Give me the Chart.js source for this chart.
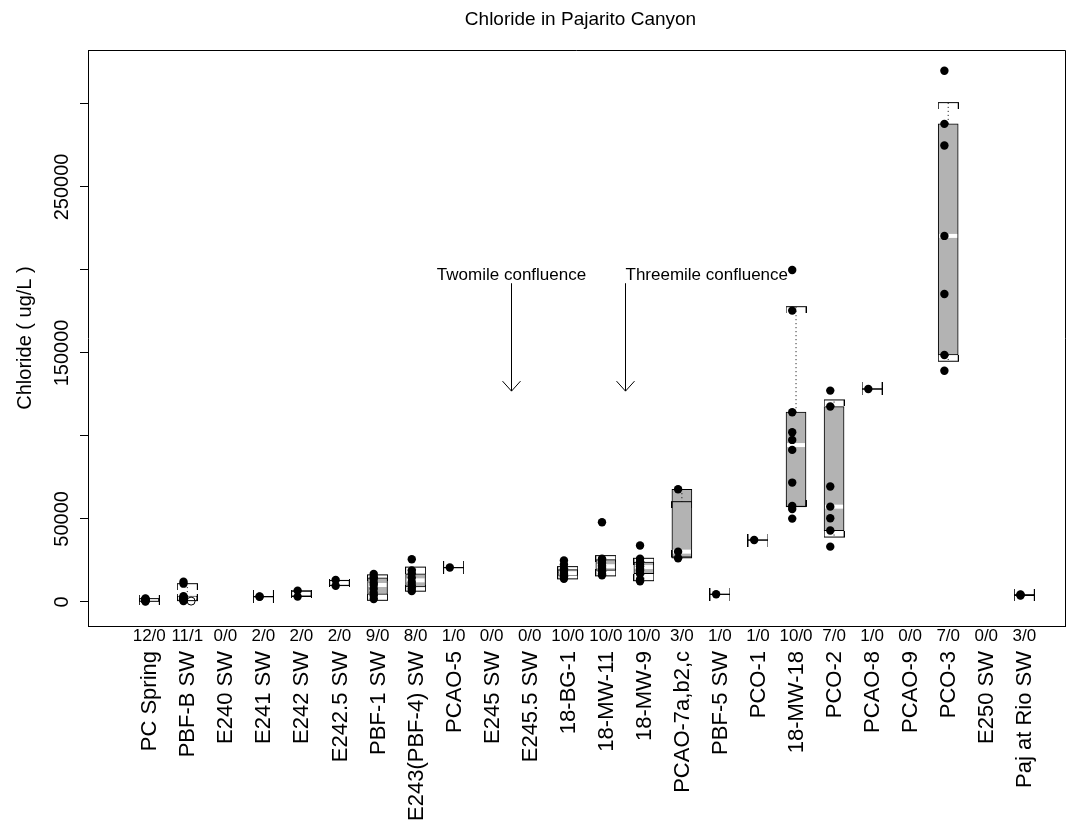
<!DOCTYPE html>
<html>
<head>
<meta charset="utf-8">
<title>Chloride in Pajarito Canyon</title>
<script src="https://cdn.jsdelivr.net/npm/chart.js"></script>
<style>
  html, body { margin:0; padding:0; background:#fff; }
  #wrap { width:1078px; height:827px; }
</style>
</head>
<body>
<div id="wrap"><canvas id="chartCl" width="1078" height="827"></canvas></div>
<script>
// stations from top of the canyon down to the Rio Grande
var stations = ['PC Spring', 'PBF-B SW', 'E240 SW', 'E241 SW', 'E242 SW', 'E242.5 SW', 'PBF-1 SW',
  'E243(PBF-4) SW', 'PCAO-5', 'E245 SW', 'E245.5 SW', '18-BG-1', '18-MW-11', '18-MW-9',
  'PCAO-7a,b2,c', 'PBF-5 SW', 'PCO-1', '18-MW-18', 'PCO-2', 'PCAO-8', 'PCAO-9', 'PCO-3',
  'E250 SW', 'Paj at Rio SW'];
// detects / non-detects
var countLabels = ['12/0', '11/1', '0/0', '2/0', '2/0', '2/0', '9/0', '8/0', '1/0', '0/0', '0/0', '10/0',
  '10/0', '10/0', '3/0', '1/0', '1/0', '10/0', '7/0', '1/0', '0/0', '7/0', '0/0', '3/0'];

// measured chloride (ug/L), one list per station
var detects = [
  [300, 500, 700, 800, 900, 1000, 1100, 1200, 1300, 1500, 1800, 2100],
  [12200, 11000, 3500, 3000, 2500, 2000, 1800, 1500, 1200, 1000, 600],
  [],
  [3100, 3300],
  [3200, 6800],
  [9700, 13200],
  [16800, 15000, 13800, 11500, 10200, 8000, 5500, 3800, 1800],
  [25700, 19000, 17000, 14500, 12000, 10000, 8000, 6500],
  [20700],
  [],
  [],
  [25000, 22500, 20000, 19000, 18000, 17000, 16500, 15500, 15000, 14000],
  [48000, 26000, 25000, 23500, 22000, 21000, 20000, 18500, 17000, 16000],
  [34000, 26000, 24000, 22500, 21500, 20000, 19000, 17000, 13500, 12500],
  [67900, 30300, 26300],
  [4600],
  [37300],
  [200000, 175500, 114300, 102200, 97600, 91600, 71900, 57800, 56000, 50200],
  [127300, 117700, 69500, 57400, 50400, 43000, 33300],
  [128300],
  [],
  [320000, 288000, 275000, 220500, 185500, 148800, 139300],
  [],
  [4500, 4200, 3800]
];
// non-detects (open circles)
var nonDetects = [[], [500], [], [], [], [], [], [], [], [], [], [], [], [], [], [], [], [], [], [], [], [], [], []];

// box statistics (null = no data)
var boxLow      = [800, 1200, null, 3100, 3200, 9700, 4500, 9000, 20700, null, null, 16000, 19000, 17000, 26300, 4600, 37300, 57200, 43000, 128300, null, 148800, null, 3800];
var boxHigh     = [1500, 3500, null, 3300, 6800, 13200, 14500, 17000, 20700, null, null, 19500, 25500, 24000, 67900, 4600, 37300, 114300, 117700, 128300, null, 288000, null, 4500];
var boxMedian   = [1100, 2000, null, 3200, 5000, 11450, 10200, 13000, 20700, null, null, 17300, 21500, 21000, 30300, 4600, 37300, 94500, 57400, 128300, null, 220500, null, 4200];
var whiskerLow  = [400, 800, null, 3100, 3500, 10000, 1000, 6500, 20700, null, null, 13900, 15700, 12800, 27100, 4600, 37300, 57600, 39100, 128300, null, 145000, null, 3900];
var whiskerHigh = [2000, 11000, null, 3300, 6500, 12900, 16300, 21000, 20700, null, null, 21300, 27900, 26300, 60400, 4600, 37300, 177900, 121700, 128300, null, 300800, null, 4400];

// y axis
var yTickValues = [0, 50000, 100000, 150000, 200000, 250000, 300000];
var yTickLabels = ['0', '50000', '', '150000', '', '250000', ''];

// confluence arrows
var confluenceText = ['Twomile confluence', 'Threemile confluence'];
var confluenceX = [9.5, 12.5];
var confluenceAlign = ['center', 'left'];
var arrowTop = 192000, arrowBottom = 127000, confluenceY = 197000;

var FONT = '"Liberation Sans", Arial, Helvetica, sans-serif';

// staple with small legs pointing to the box
function makeStaple(legsDown){
  var c = document.createElement('canvas');
  c.width = 21; c.height = 13;
  var g = c.getContext('2d');
  g.fillStyle = '#000';
  g.fillRect(0, 6, 21, 1);
  if (legsDown) { g.fillRect(0, 6, 1, 7); g.fillRect(20, 6, 1, 7); }
  else { g.fillRect(0, 0, 1, 7); g.fillRect(20, 0, 1, 7); }
  return c;
}

var pointData = [], ndData = [], boxData = [], medData = [], capTop = [], capBottom = [], whiskerData = [];
stations.forEach(function(name, i){
  detects[i].forEach(function(v){ pointData.push({x: i - 0.1, y: v}); });
  nonDetects[i].forEach(function(v){ ndData.push({x: i + 0.1, y: v}); });
  if (boxLow[i] === null) return;
  boxData.push({x: i, y: [boxLow[i], boxHigh[i]]});
  medData.push({x: i, y: boxMedian[i]});
  capTop.push({x: i, y: whiskerHigh[i]});
  capBottom.push({x: i, y: whiskerLow[i]});
  whiskerData.push({x: i, y: boxHigh[i]}, {x: i, y: whiskerHigh[i]}, {x: i, y: null});
  whiskerData.push({x: i, y: boxLow[i]}, {x: i, y: whiskerLow[i]}, {x: i, y: null});
});

// texts, frame and arrows (R style)
var rDecor = {
  id: 'rDecor',
  afterDraw: function(chart){
    var ctx = chart.ctx, xs = chart.scales.x, ys = chart.scales.y, a = chart.chartArea;
    ctx.save();
    ctx.strokeStyle = '#000';
    ctx.lineWidth = 1;
    ctx.beginPath();
    ctx.moveTo(a.left, Math.round(a.top) + 0.5);
    ctx.lineTo(Math.round(a.right) + 0.5, Math.round(a.top) + 0.5);
    ctx.lineTo(Math.round(a.right) + 0.5, a.bottom);
    ctx.stroke();

    ctx.fillStyle = '#000';
    // title
    ctx.font = '19px ' + FONT;
    ctx.textAlign = 'center';
    ctx.textBaseline = 'middle';
    ctx.fillText('Chloride in Pajarito Canyon', (a.left + a.right) / 2 + 4, 20);

    // y tick labels, vertical
    ctx.font = '20px ' + FONT;
    yTickValues.forEach(function(v, k){
      if (!yTickLabels[k]) return;
      ctx.save();
      ctx.translate(62, ys.getPixelForValue(v));
      ctx.rotate(-Math.PI / 2);
      ctx.fillText(yTickLabels[k], 0, 0);
      ctx.restore();
    });
    ctx.save();
    ctx.translate(25, (a.top + a.bottom) / 2);
    ctx.rotate(-Math.PI / 2);
    ctx.fillText('Chloride ( ug/L )', 0, 0);
    ctx.restore();

    // counts and station names under the axis
    stations.forEach(function(name, i){
      var px = xs.getPixelForValue(i);
      ctx.font = '17px ' + FONT;
      ctx.textAlign = 'center';
      ctx.fillText(countLabels[i], px, 636);
      ctx.save();
      ctx.font = '22px ' + FONT;
      ctx.translate(px + 1, 651);
      ctx.rotate(-Math.PI / 2);
      ctx.textAlign = 'right';
      ctx.fillText(name, 0, 0);
      ctx.restore();
    });

    // confluence arrows
    ctx.font = '17px ' + FONT;
    confluenceText.forEach(function(t, k){
      var px = Math.round(xs.getPixelForValue(confluenceX[k])) + 0.5;
      var top = ys.getPixelForValue(arrowTop), tip = ys.getPixelForValue(arrowBottom);
      ctx.textAlign = confluenceAlign[k];
      ctx.fillText(t, px, ys.getPixelForValue(confluenceY));
      ctx.beginPath();
      ctx.moveTo(px, top);
      ctx.lineTo(px, tip);
      ctx.moveTo(px - 9, tip - 10);
      ctx.lineTo(px, tip);
      ctx.lineTo(px + 9, tip - 10);
      ctx.stroke();
    });
    ctx.restore();
  }
};

new Chart(document.getElementById('chartCl').getContext('2d'), {
  type: 'scatter',
  data: {
    datasets: [
      {
        label: 'detects',
        data: pointData,
        order: 0,
        pointRadius: 4.2,
        pointBackgroundColor: '#000',
        pointBorderWidth: 0
      },
      {
        label: 'non-detects',
        data: ndData,
        order: 1,
        pointRadius: 4,
        pointBackgroundColor: 'rgba(0,0,0,0)',
        pointBorderColor: '#000',
        pointBorderWidth: 1
      },
      {
        label: 'top staple',
        data: capTop,
        order: 2,
        pointRadius: 5,
        pointStyle: makeStaple(true)
      },
      {
        label: 'bottom staple',
        data: capBottom,
        order: 2,
        pointRadius: 5,
        pointStyle: makeStaple(false)
      },
      {
        label: 'median',
        data: medData,
        order: 3,
        pointStyle: 'line',
        pointRadius: 9,
        pointBorderColor: '#fff',
        pointBorderWidth: 4
      },
      {
        label: 'whiskers',
        data: whiskerData,
        order: 4,
        showLine: true,
        spanGaps: false,
        borderColor: '#000',
        borderWidth: 1,
        borderDash: [1, 3],
        pointRadius: 0
      },
      {
        type: 'bar',
        label: 'box',
        data: boxData,
        order: 5,
        grouped: false,
        barThickness: 20,
        backgroundColor: '#b3b3b3',
        borderColor: '#000',
        borderWidth: 1,
        borderSkipped: false
      }
    ]
  },
  options: {
    responsive: false,
    animation: false,
    events: [],
    layout: { padding: { top: 50, right: 12, left: 0, bottom: 0 } },
    plugins: { legend: { display: false }, tooltip: { enabled: false }, title: { display: false } },
    scales: {
      x: {
        type: 'linear',
        offset: false,
        min: -1.61,
        max: 24.07,
        grid: { display: false, offset: false },
        ticks: { display: false },
        border: { display: true, color: '#000', width: 1 },
        afterFit: function(scale){ scale.height = 201; }
      },
      y: {
        type: 'linear',
        min: -14500,
        max: 332500,
        afterBuildTicks: function(scale){
          scale.ticks = yTickValues.map(function(v){ return {value: v}; });
        },
        ticks: { display: false },
        grid: { display: true, drawOnChartArea: false, drawTicks: true, tickLength: 8, color: '#000' },
        border: { display: true, color: '#000', width: 1 },
        afterFit: function(scale){ scale.width = 88; }
      }
    }
  },
  plugins: [rDecor]
});
</script>
</body>
</html>
